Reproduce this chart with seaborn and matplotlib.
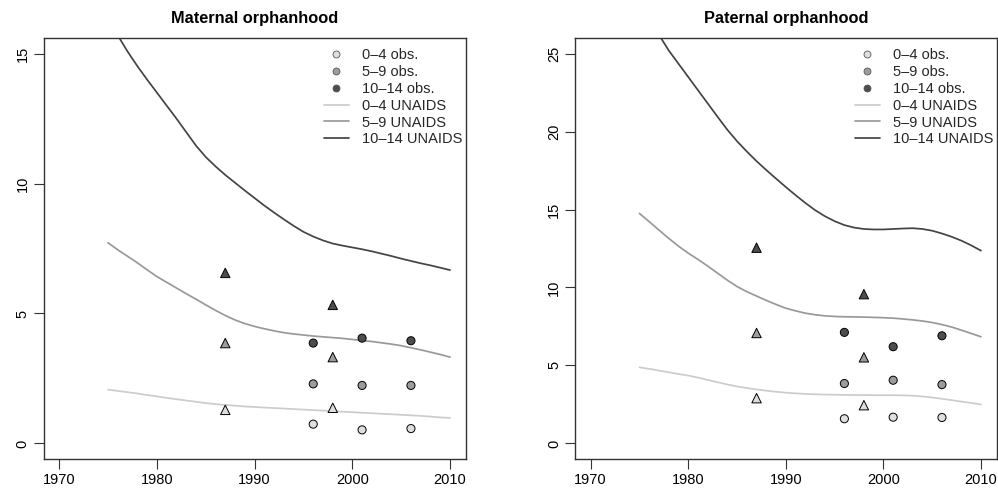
import matplotlib
matplotlib.use("Agg")
import matplotlib.pyplot as plt
import seaborn as sns
import pandas as pd
import numpy as np
from matplotlib.lines import Line2D

# ---- dados ----
anos_unaids = list(range(1975, 2011))

mat_0_4 = [2.07, 2.02, 1.97, 1.92, 1.86, 1.81, 1.75, 1.70, 1.65, 1.60, 1.55, 1.51,
           1.48, 1.45, 1.42, 1.40, 1.38, 1.36, 1.34, 1.32, 1.30, 1.28, 1.26, 1.24,
           1.22, 1.20, 1.18, 1.16, 1.14, 1.12, 1.10, 1.08, 1.06, 1.03, 1.00, 0.98]
mat_5_9 = [7.72, 7.45, 7.20, 6.95, 6.68, 6.42, 6.20, 5.98, 5.76, 5.55, 5.33, 5.12,
           4.92, 4.75, 4.61, 4.50, 4.41, 4.33, 4.26, 4.21, 4.17, 4.13, 4.10, 4.07,
           4.04, 4.00, 3.96, 3.92, 3.87, 3.82, 3.76, 3.68, 3.60, 3.51, 3.42, 3.32]
mat_10_14 = [16.4, 15.7, 15.08, 14.52, 14.0, 13.5, 13.0, 12.5, 11.98, 11.46, 11.02, 10.66,
             10.33, 10.03, 9.73, 9.44, 9.15, 8.88, 8.62, 8.37, 8.14, 7.96, 7.81, 7.69,
             7.61, 7.54, 7.47, 7.39, 7.30, 7.21, 7.11, 7.02, 6.93, 6.85, 6.76, 6.67]

pat_0_4 = [4.88, 4.78, 4.67, 4.56, 4.45, 4.35, 4.22, 4.07, 3.92, 3.78, 3.65, 3.55,
           3.46, 3.38, 3.31, 3.25, 3.21, 3.17, 3.15, 3.13, 3.12, 3.11, 3.10, 3.10,
           3.09, 3.09, 3.09, 3.08, 3.06, 3.01, 2.94, 2.86, 2.77, 2.68, 2.59, 2.50]
pat_5_9 = [14.75, 14.22, 13.68, 13.15, 12.65, 12.2, 11.8, 11.37, 10.92, 10.47, 10.06, 9.73,
           9.45, 9.17, 8.91, 8.67, 8.5, 8.35, 8.25, 8.18, 8.14, 8.12, 8.11, 8.10,
           8.08, 8.06, 8.03, 7.98, 7.92, 7.85, 7.75, 7.62, 7.46, 7.26, 7.05, 6.84]
pat_10_14 = [28.0, 27.1, 26.2, 25.2, 24.35, 23.5, 22.65, 21.8, 20.95, 20.12, 19.38, 18.72,
             18.1, 17.53, 16.98, 16.44, 15.92, 15.42, 14.96, 14.57, 14.25, 14.0, 13.84, 13.75,
             13.72, 13.72, 13.75, 13.78, 13.8, 13.75, 13.64, 13.46, 13.25, 13.0, 12.7, 12.36]

# observacoes (circulos)
anos_obs = [1996, 2001, 2006]
mat_obs_0_4 = [0.74, 0.52, 0.57]
mat_obs_5_9 = [2.29, 2.23, 2.23]
mat_obs_10_14 = [3.86, 4.05, 3.95]
pat_obs_0_4 = [1.58, 1.68, 1.66]
pat_obs_5_9 = [3.84, 4.05, 3.77]
pat_obs_10_14 = [7.12, 6.20, 6.90]

# outras estimativas (triangulos)
anos_tri = [1987, 1998]
mat_tri_0_4 = [1.29, 1.37]
mat_tri_5_9 = [3.86, 3.32]
mat_tri_10_14 = [6.56, 5.33]
pat_tri_0_4 = [2.90, 2.45]
pat_tri_5_9 = [7.08, 5.52]
pat_tri_10_14 = [12.55, 9.57]

grupos = ["0–4", "5–9", "10–14"]
cor_linha = {"0–4": "#cccccc", "5–9": "#999999", "10–14": "#444444"}
cor_ponto = {"0–4": "#dedede", "5–9": "#9c9c9c", "10–14": "#4d4d4d"}

sns.set_theme(style="white")
plt.rcParams['font.family'] = ['Liberation Sans', 'DejaVu Sans']


def longo(anos, series):
    linhas = []
    for g, vals in zip(grupos, series):
        for a, v in zip(anos, vals):
            linhas.append({"ano": a, "valor": v, "grupo": g})
    return pd.DataFrame(linhas)


paineis = [
    ("Maternal orphanhood", [mat_0_4, mat_5_9, mat_10_14],
     [mat_obs_0_4, mat_obs_5_9, mat_obs_10_14],
     [mat_tri_0_4, mat_tri_5_9, mat_tri_10_14], 15, [0, 5, 10, 15]),
    ("Paternal orphanhood", [pat_0_4, pat_5_9, pat_10_14],
     [pat_obs_0_4, pat_obs_5_9, pat_obs_10_14],
     [pat_tri_0_4, pat_tri_5_9, pat_tri_10_14], 25, [0, 5, 10, 15, 20, 25]),
]

fig = plt.figure(figsize=(9.98, 4.94), dpi=100)
posicoes = [[0.0436, 0.0709, 0.4230, 0.8522], [0.5762, 0.0709, 0.4224, 0.8522]]

for pos, (titulo, linhas, obs, tri, ymax, yticks) in zip(posicoes, paineis):
    ax = fig.add_axes(pos)
    df_l = longo(anos_unaids, linhas)
    df_o = longo(anos_obs, obs)
    df_t = longo(anos_tri, tri)

    sns.lineplot(data=df_l, x="ano", y="valor", hue="grupo", palette=cor_linha,
                 hue_order=grupos, linewidth=1.25, legend=False, ax=ax)
    sns.scatterplot(data=df_o, x="ano", y="valor", hue="grupo", palette=cor_ponto,
                    hue_order=grupos, marker="o", s=34, edgecolor="black",
                    linewidth=0.7, legend=False, ax=ax, zorder=3)
    sns.scatterplot(data=df_t, x="ano", y="valor", hue="grupo", palette=cor_ponto,
                    hue_order=grupos, marker="^", s=46, edgecolor="black",
                    linewidth=0.7, legend=False, ax=ax, zorder=3)

    ext = 0.04 * ymax
    ax.set_xlim(1970 - 1.6, 2010 + 1.6)
    ax.set_ylim(-ext, ymax + ext)
    ax.set_xticks([1970, 1980, 1990, 2000, 2010])
    ax.set_yticks(yticks)
    ax.set_xlabel("")
    ax.set_ylabel("")
    ax.tick_params(axis="both", direction="out", length=7, width=0.8,
                   color="#333333", labelcolor="black", labelsize=10.5, pad=3,
                   bottom=True, left=True)
    for lbl in ax.get_yticklabels():
        lbl.set_rotation(90)
        lbl.set_va("center")
    for s in ax.spines.values():
        s.set_color("#333333")
        s.set_linewidth(1.0)
    ax.set_title(titulo, fontsize=11.8, weight="bold", pad=11, color="black")

    handles = [Line2D([], [], linestyle="none", marker="o", markersize=5,
                      markerfacecolor=cor_ponto[g], markeredgecolor="#555555",
                      markeredgewidth=0.6) for g in grupos]
    handles += [Line2D([], [], color=cor_linha[g], linewidth=1.25) for g in grupos]
    rotulos = [f"{g} obs." for g in grupos] + [f"{g} UNAIDS" for g in grupos]
    ax.legend(handles, rotulos, loc="upper right", bbox_to_anchor=(1.0, 0.982),
              frameon=False, fontsize=10.5, labelspacing=0.19, handlelength=1.75,
              handletextpad=0.9, borderaxespad=0.1, borderpad=0.1)

fig.savefig("out.png", dpi=100)
